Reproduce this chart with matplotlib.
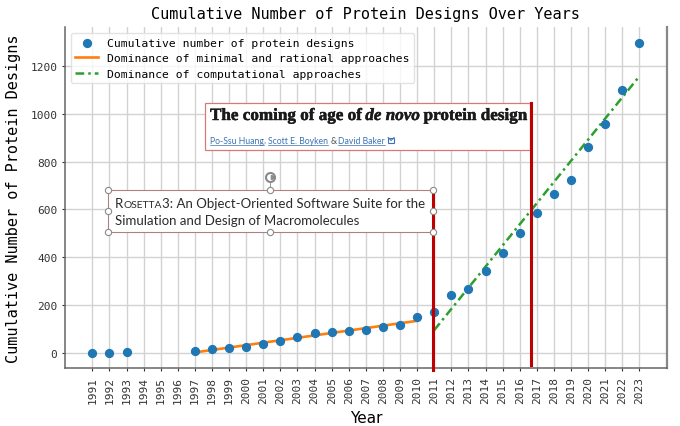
import numpy as np
import matplotlib
matplotlib.use("Agg")
import matplotlib.pyplot as plt
from matplotlib.patches import Rectangle
from matplotlib.lines import Line2D
import matplotlib.patheffects as pe

# ---------------- data ----------------
years = [1991, 1992, 1993, 1997, 1998, 1999, 2000, 2001, 2002, 2003, 2004,
         2005, 2006, 2007, 2008, 2009, 2010, 2011, 2012, 2013, 2014, 2015,
         2016, 2017, 2018, 2019, 2020, 2021, 2022, 2023]
designs = [0, 0, 1, 7, 15, 19, 22, 35, 47, 64, 82, 88, 90, 96, 107, 114, 147,
           172, 243, 268, 342, 418, 502, 586, 666, 724, 864, 957, 1100, 1299]
rational_period = (1997, 2010)
computational_period = (2011, 2023)
tick_years = list(range(1991, 2024))
y_ticks = [0, 200, 400, 600, 800, 1000, 1200]

title = "Cumulative Number of Protein Designs Over Years"
xlabel = "Year"
ylabel = "Cumulative Number of Protein Designs"
legend_labels = ["Cumulative number of protein designs",
                 "Dominance of minimal and rational approaches",
                 "Dominance of computational approaches"]

MONO = "DejaVu Sans Mono"
W, H = 680, 427

fig = plt.figure(figsize=(W / 100, H / 100), dpi=100)
fig.patch.set_facecolor("white")
ax = fig.add_axes([65 / W, 1 - 369 / H, (666.7 - 65) / W, (369 - 28.3) / H])

yrs = np.array(years)
vals = np.array(designs)

ax.scatter(yrs, vals, s=32, color="#1f77b4", zorder=3, label=legend_labels[0])

m1 = (yrs >= rational_period[0]) & (yrs <= rational_period[1])
p1 = np.polyfit(yrs[m1], vals[m1], 1)
ax.plot(yrs[m1], np.polyval(p1, yrs[m1]), color="#ff7f0e", lw=1.9,
        zorder=2, label=legend_labels[1])

m2 = (yrs >= computational_period[0]) & (yrs <= computational_period[1])
p2 = np.polyfit(yrs[m2], vals[m2], 1)
ax.plot(yrs[m2], np.polyval(p2, yrs[m2]), color="#2ca02c", lw=1.8,
        dashes=[3.5, 1.6, 1, 1.6], zorder=2, label=legend_labels[2])

ax.set_xticks(tick_years)
ax.set_xticklabels([str(t) for t in tick_years], rotation=90,
                   fontfamily=MONO, fontsize=8)
ax.set_yticks(y_ticks)
ax.set_yticklabels([str(t) for t in y_ticks], fontfamily=MONO, fontsize=8)
ax.grid(True, color="#d2d2d2", lw=1)
ax.set_axisbelow(True)
for s in ["left", "bottom", "right"]:
    ax.spines[s].set_color("#666666")
    ax.spines[s].set_linewidth(1.1)
ax.spines["right"].set_color("#888888")
ax.spines["right"].set_linewidth(1.6)
ax.spines["top"].set_visible(False)
ax.tick_params(colors="#333333", length=2.5, pad=3)

ax.set_title(title, fontfamily=MONO, fontsize=11, pad=7)
ax.set_xlabel(xlabel, fontfamily="DejaVu Sans", fontsize=11, labelpad=5)
ax.set_ylabel(ylabel, fontfamily=MONO, fontsize=11, labelpad=7)

leg = ax.legend(loc="upper left", prop={"family": MONO, "size": 8.2},
                framealpha=0.8, edgecolor="#dddddd", fancybox=True,
                handlelength=2.0)

# ---------------- pasted-image style annotations ----------------
def fx(x):
    return x / W


def fy(y):
    return 1 - y / H


renderer = fig.canvas.get_renderer()


def run(pieces, x_px, y_px, target_w=None, scale=None, gap_em=0.25):
    """pieces: (text, size, kwargs, space_before, underline)"""
    ts = []
    for s, size, kw, sp, ul in pieces:
        t = fig.text(0, 0, s, fontsize=size, va="baseline", ha="left",
                     zorder=6, **kw)
        ts.append((t, size, sp, ul))

    def layout(sc):
        x = x_px
        spans = []
        for t, size, sp, ul in ts:
            t.set_fontsize(size * sc)
            if sp:
                x += gap_em * size * sc * 100 / 72
            t.set_position((fx(x), fy(y_px)))
            w = t.get_window_extent(renderer).width
            spans.append((x, x + w, ul, t))
            x += w
        return x - x_px, spans

    sc = 1.0 if scale is None else scale
    w, spans = layout(sc)
    if target_w is not None:
        sc = sc * target_w / w
        w, spans = layout(sc)
    return sc, spans


# Box 1: "The coming of age of de novo protein design"
fig.add_artist(Rectangle((fx(205), fy(151)), (530 - 205) / W, (151 - 104) / H,
                         transform=fig.transFigure, facecolor="white",
                         edgecolor="#d9787a", lw=0.9, zorder=5))
heavy = [pe.withStroke(linewidth=0.35, foreground="#1a1a1a")]
serif = {"fontfamily": "Liberation Serif", "fontweight": "bold",
         "color": "#1a1a1a", "path_effects": heavy}
serif_it = dict(serif, fontstyle="italic")
run([("The coming of age of", 14, serif, False, False),
     ("de novo", 14, serif_it, True, False),
     ("protein design", 14, serif, True, False)],
    210, 121, target_w=318, gap_em=0.2)

blue = {"fontfamily": "Lato", "color": "#3a73b5"}
gray = {"fontfamily": "Lato", "color": "#555555"}
sc, spans = run([("Po-Ssu Huang", 6.5, blue, False, True),
                 (",", 6.5, gray, False, False),
                 ("Scott E. Boyken", 6.5, blue, True, True),
                 ("&", 6.5, gray, True, False),
                 ("David Baker", 6.5, blue, True, True)],
                210, 144, target_w=174)
for x0, x1, ul, t in spans:
    if ul:
        fig.add_artist(Line2D([fx(x0), fx(x1)], [fy(145.5), fy(145.5)],
                              transform=fig.transFigure, color="#3a73b5",
                              lw=0.5, zorder=6))
xe = spans[-1][1] + 3
fig.add_artist(Rectangle((fx(xe), fy(143.5)), 6 / W, 5 / H,
                         transform=fig.transFigure, facecolor="none",
                         edgecolor="#3a73b5", lw=0.8, zorder=6))
fig.add_artist(Line2D([fx(xe), fx(xe + 3), fx(xe + 6)],
                      [fy(138.5), fy(141.5), fy(138.5)],
                      transform=fig.transFigure, color="#3a73b5",
                      lw=0.7, zorder=6))

# red vertical lines
fig.add_artist(Line2D([fx(530.5), fx(530.5)], [fy(104), fy(366)],
                      transform=fig.transFigure, color="#c00000", lw=2.2,
                      zorder=7))

# Box 2: Rosetta3
bx0, bx1, by0, by1 = 108, 432.5, 191, 233
fig.add_artist(Rectangle((fx(bx0), fy(by1)), (bx1 - bx0) / W,
                         (by1 - by0) / H, transform=fig.transFigure,
                         facecolor="white", edgecolor="#b08080", lw=0.8,
                         zorder=5))
calib = {"fontfamily": "Lato", "color": "#2b2b2b"}
sc2, _ = run([("R", 10, calib, False, False),
              ("OSETTA", 7.8, calib, False, False),
              ("3: An Object-Oriented Software Suite for the", 10, calib,
               False, False)],
             115, 208.5, target_w=310)
run([("Simulation and Design of Macromolecules", 10, calib, False, False)],
    115, 225.5, scale=sc2)

fig.add_artist(Line2D([fx(432.5), fx(432.5)], [fy(191), fy(371)],
                      transform=fig.transFigure, color="#c00000", lw=2.2,
                      zorder=7))

# selection handles
midx = (bx0 + bx1) / 2
midy = (by0 + by1) / 2
fig.add_artist(Line2D([fx(midx), fx(midx)], [fy(181), fy(by0)],
                      transform=fig.transFigure, color="#999999", lw=0.7,
                      zorder=7))
fig.add_artist(Line2D([fx(midx)], [fy(178)], transform=fig.transFigure,
                      marker="o", markersize=6.5, mfc="white", mec="#8a8a8a",
                      mew=1.5, zorder=8))
fig.add_artist(Line2D([fx(midx + 2.5)], [fy(178)], transform=fig.transFigure,
                      marker=">", markersize=3, mfc="#8a8a8a", mec="#8a8a8a",
                      zorder=9))
hx = [bx0, midx, bx1, bx0, bx1, bx0, midx, bx1]
hy = [by0, by0, by0, midy, midy, by1, by1, by1]
fig.add_artist(Line2D([fx(v) for v in hx], [fy(v) for v in hy],
                      transform=fig.transFigure, linestyle="none",
                      marker="o", markersize=4.5, mfc="white", mec="#8a8a8a",
                      mew=0.8, zorder=8))

fig.savefig("out.png", dpi=100, facecolor="white")
